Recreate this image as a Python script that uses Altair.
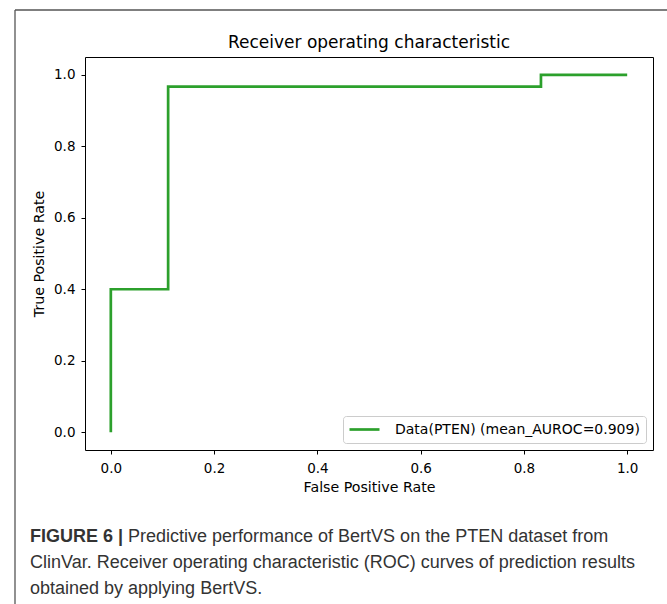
import altair as alt
import pandas as pd

# ROC curve points
fpr = [0.0, 0.0, 0.111, 0.111, 0.833, 0.833, 1.0]
tpr = [0.0, 0.4, 0.4, 0.967, 0.967, 1.0, 1.0]
series_name = "Data(PTEN) (mean_AUROC=0.909)"
tick_values = [0.0, 0.2, 0.4, 0.6, 0.8, 1.0]

chart_title = "Receiver operating characteristic"
caption_bold = "FIGURE 6 |"
caption_lines = [
    "Predictive performance of BertVS on the PTEN dataset from",
    "ClinVar. Receiver operating characteristic (ROC) curves of prediction results",
    "obtained by applying BertVS.",
]

W, H = 568, 393
PAD_L, PAD_T = 85, 57

df = pd.DataFrame({"fpr": fpr, "tpr": tpr, "order": list(range(len(fpr))),
                   "series": [series_name] * len(fpr)})

TICK_FONT = "DejaVu Sans"

line = alt.Chart(df).mark_line(strokeWidth=2.7).encode(
    x=alt.X("fpr:Q", title="False Positive Rate",
            scale=alt.Scale(domain=[-0.05, 1.05], nice=False, zero=False),
            axis=alt.Axis(values=tick_values, format=".1f", grid=False, domain=False,
                          tickSize=4, tickColor="black", labelPadding=7,
                          titlePadding=6)),
    y=alt.Y("tpr:Q", title="True Positive Rate",
            scale=alt.Scale(domain=[-0.05, 1.05], nice=False, zero=False),
            axis=alt.Axis(values=tick_values, format=".1f", grid=False, domain=False,
                          tickSize=4, tickColor="black", labelPadding=6,
                          titlePadding=7)),
    order="order:Q",
    color=alt.Color("series:N",
                    scale=alt.Scale(domain=[series_name], range=["#2ca02c"]),
                    legend=alt.Legend(title=None, orient="bottom-right", offset=7,
                                      padding=6, strokeColor="#cccccc", fillColor="white",
                                      cornerRadius=3, symbolType="M-2.5,0H2.5",
                                      symbolSize=144, symbolStrokeWidth=2.7,
                                      symbolOffset=8, labelOffset=23,
                                      labelFontSize=14, labelLimit=400,
                                      labelFont=TICK_FONT, labelColor="black")),
)

# chart title as text above the plot
title_df = pd.DataFrame({"t": [chart_title]})
title_mark = alt.Chart(title_df).mark_text(
    font=TICK_FONT, fontSize=17, color="black", align="center", baseline="alphabetic").encode(
    text="t:N", x=alt.value(W / 2), y=alt.value(48 - PAD_T))

# outer figure border (decoration)
border_df = pd.DataFrame({"k": [0]})
border_h = alt.Chart(border_df).mark_rule(color="#555555", strokeWidth=1.3).encode(
    x=alt.value(15 - PAD_L), x2=alt.value(700), y=alt.value(10 - PAD_T))
border_v = alt.Chart(border_df).mark_rule(color="#555555", strokeWidth=1.3).encode(
    x=alt.value(15 - PAD_L), y=alt.value(10 - PAD_T), y2=alt.value(620))

cap_font = "Liberation Sans"
cap_size = 18
cap_color = "#333333"
bold_df = pd.DataFrame({"t": [caption_bold]})
cap_bold = alt.Chart(bold_df).mark_text(
    font=cap_font, fontSize=cap_size, fontWeight="bold", color=cap_color,
    align="left", baseline="alphabetic").encode(
    text="t:N", x=alt.value(30 - PAD_L), y=alt.value(542 - PAD_T))

cap_layers = []
starts = [128, 30, 30]
baselines = [542, 568, 594]
for i, txt in enumerate(caption_lines):
    d = pd.DataFrame({"t": [txt]})
    cap_layers.append(alt.Chart(d).mark_text(
        font=cap_font, fontSize=cap_size, color=cap_color,
        align="left", baseline="alphabetic").encode(
        text="t:N", x=alt.value(starts[i] - PAD_L), y=alt.value(baselines[i] - PAD_T)))

chart = alt.layer(line, title_mark, border_h, border_v, cap_bold, *cap_layers).properties(
    width=W, height=H,
    autosize=alt.AutoSizeParams(type="none"),
    padding={"left": PAD_L, "top": PAD_T, "right": 667 - PAD_L - W, "bottom": 604 - PAD_T - H},
).configure(background="white").configure_view(
    stroke="black", strokeWidth=1
).configure_axis(
    labelFont=TICK_FONT, labelFontSize=13.5, labelColor="black",
    titleFont=TICK_FONT, titleFontSize=14.2, titleFontWeight="normal", titleColor="black",
)

chart.save("out.html", embed_options={"renderer": "svg", "actions": False})
